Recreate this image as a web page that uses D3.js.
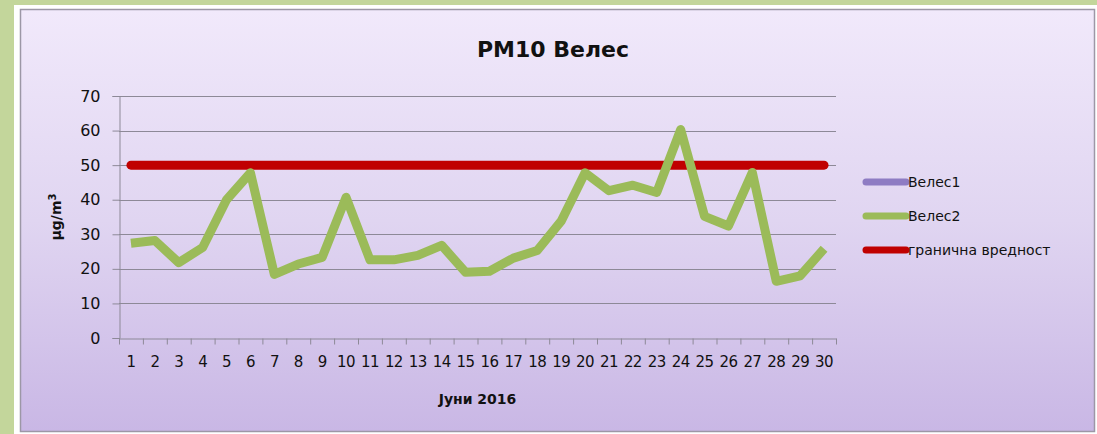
<!DOCTYPE html>
<html>
<head>
<meta charset="utf-8">
<script src="https://cdn.jsdelivr.net/npm/d3@7"></script>
<style>
  body { margin: 0; background: #c3d69b; }
  svg { display: block; }
  text { font-family: "DejaVu Sans", sans-serif; fill: #111; }
</style>
</head>
<body>
<svg id="chart" width="1097" height="434"></svg>
<script>
var WIDTH = 1097,
    HEIGHT = 434;

// data
var days = d3.range(1, 31).map(String);
var veles1 = [];   // в легендата, но без податоци
var veles2 = [27.4, 28.2, 21.8, 26.2, 40.0, 47.8, 18.4, 21.4, 23.3, 40.7,
              22.6, 22.6, 23.9, 26.8, 19.0, 19.3, 23.1, 25.3, 33.8, 47.8,
              42.6, 44.2, 42.1, 60.3, 35.2, 32.4, 47.9, 16.4, 18.0, 25.8];
var limit = days.map(() => 50);
var yTicks = [0, 10, 20, 30, 40, 50, 60, 70];
var legendItems = [
  {name: 'Велес1', color: '#8e7cc3'},
  {name: 'Велес2', color: '#9bbb59'},
  {name: 'гранична вредност', color: '#c00000'}
];

var margin = {top: 96, right: 261, bottom: 96, left: 119},
    width = WIDTH - margin.left - margin.right,
    height = HEIGHT - margin.top - margin.bottom;

var svg = d3.select('#chart');

// gradient for the chart area
var grad = svg.append('defs').append('linearGradient')
  .attr('id', 'bg').attr('x1', 0).attr('y1', 0).attr('x2', 0).attr('y2', 1);
grad.append('stop').attr('offset', '0%').attr('stop-color', '#f1e9fb');
grad.append('stop').attr('offset', '50%').attr('stop-color', '#e0d5f1');
grad.append('stop').attr('offset', '100%').attr('stop-color', '#c9b7e5');

svg.append('rect').attr('x', 14).attr('y', 5).attr('width', WIDTH - 14).attr('height', HEIGHT - 5)
  .attr('fill', '#ffffff');
svg.append('rect').attr('x', 20.5).attr('y', 9.5).attr('width', 1074).attr('height', 422)
  .attr('fill', 'url(#bg)').attr('stroke', '#9c97a6').attr('stroke-width', 1.5);

var x = d3.scaleBand().domain(days).range([margin.left, margin.left + width]);
var y = d3.scaleLinear().domain([0, 70]).range([margin.top + height, margin.top]);
var cx = d => x(d) + x.bandwidth() / 2;

// grid
svg.append('g').selectAll('line')
  .data(yTicks.slice(1))
  .enter().append('line')
  .attr('x1', margin.left).attr('x2', margin.left + width)
  .attr('y1', d => Math.round(y(d)) + 0.5).attr('y2', d => Math.round(y(d)) + 0.5)
  .attr('stroke', '#8d8997').attr('stroke-width', 1);

// y axis
var yAxis = svg.append('g')
  .attr('transform', 'translate(' + (margin.left + 0.5) + ',0)')
  .call(d3.axisLeft(y).tickValues(yTicks).tickSize(7).tickPadding(12));
yAxis.selectAll('text').style('font-size', '16px');

// x axis
var xAxis = svg.append('g')
  .attr('transform', 'translate(0,' + (Math.round(y(0)) + 0.5) + ')')
  .call(d3.axisBottom(x).tickSize(0).tickPadding(18));
xAxis.selectAll('text').style('font-size', '15px').attr('letter-spacing', '-0.6');
// ticks at band edges
xAxis.selectAll('.edge')
  .data(days.concat(['end']))
  .enter().append('line')
  .attr('class', 'edge')
  .attr('x1', (d, i) => margin.left + i * x.step() + 0.5)
  .attr('x2', (d, i) => margin.left + i * x.step() + 0.5)
  .attr('y1', 0).attr('y2', 6)
  .attr('stroke', '#8d8997');
svg.selectAll('.domain').attr('stroke', '#8d8997');
svg.selectAll('.tick line').attr('stroke', '#8d8997');

// series
var line = d3.line().x((d, i) => cx(days[i])).y(d => y(d));

svg.append('path').datum(limit)
  .attr('d', line)
  .attr('fill', 'none').attr('stroke', '#c00000')
  .attr('stroke-width', 9).attr('stroke-linecap', 'round');

svg.append('path').datum(veles1)
  .attr('d', line)
  .attr('fill', 'none').attr('stroke', '#8e7cc3').attr('stroke-width', 9);

svg.append('path').datum(veles2)
  .attr('d', line)
  .attr('fill', 'none').attr('stroke', '#9bbb59')
  .attr('stroke-width', 9).attr('stroke-linejoin', 'round');

// titles
svg.append('text')
  .attr('x', 553).attr('y', 57)
  .attr('text-anchor', 'middle')
  .style('font-size', '22px').style('font-weight', 'bold')
  .text('PM10 Велес');

svg.append('text')
  .attr('x', margin.left + width / 2).attr('y', 404)
  .attr('text-anchor', 'middle')
  .style('font-size', '14px').style('font-weight', 'bold')
  .text('Јуни 2016');

var yt = svg.append('text')
  .attr('transform', 'translate(61,' + y(35) + ') rotate(-90)')
  .attr('text-anchor', 'middle')
  .style('font-size', '14px').style('font-weight', 'bold');
yt.append('tspan').text('µg/m');
yt.append('tspan').attr('dy', -5).style('font-size', '10px').text('3');

// legend
var legend = svg.append('g').selectAll('g')
  .data(legendItems)
  .enter().append('g')
  .attr('transform', (d, i) => 'translate(866,' + (182 + i * 34) + ')');
legend.append('line')
  .attr('x1', 0).attr('x2', 40)
  .attr('stroke', d => d.color).attr('stroke-width', 7).attr('stroke-linecap', 'round');
legend.append('text')
  .attr('x', 42).attr('dy', '0.35em')
  .style('font-size', '14px')
  .text(d => d.name);
</script>
</body>
</html>
